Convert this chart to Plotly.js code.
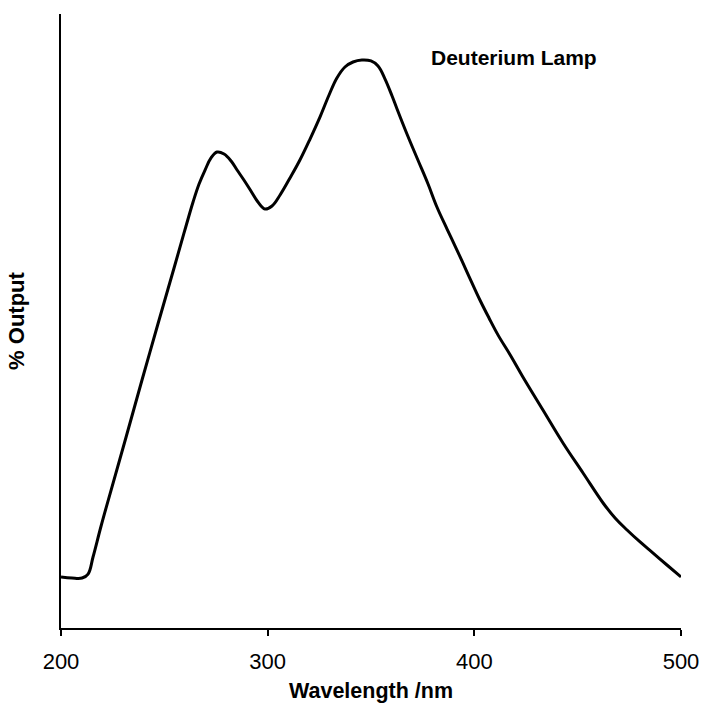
<!DOCTYPE html>
<html>
<head>
<meta charset="utf-8">
<script src="https://cdn.plot.ly/plotly-3.0.1.min.js"></script>
<style>html,body{margin:0;padding:0;background:#fff;}#chart{width:702px;height:708px;}</style>
</head>
<body>
<div id="chart"></div>
<script>
var wavelength = [200.0, 205.3, 210.2, 213.1, 215.5, 219.4, 223.7, 231.5, 239.2, 246.9, 254.7, 260.5, 263.9, 266.8, 269.7, 272.6, 275.5, 278.9, 282.3, 285.2, 288.5, 291.9, 295.3, 298.7, 302.1, 306.0, 310.8, 315.6, 320.5, 325.3, 329.7, 333.5, 337.4, 341.3, 345.6, 350.0, 353.4, 356.8, 360.2, 362.6, 367.4, 372.7, 377.6, 381.9, 386.8, 391.6, 396.9, 402.7, 407.1, 411.5, 417.3, 423.5, 433.2, 442.9, 452.6, 462.3, 468.1, 473.9, 480.2, 486.5, 493.2, 500.0];
var output = [8.31, 8.14, 8.14, 8.79, 11.56, 16.61, 21.82, 31.11, 40.39, 49.51, 58.63, 65.47, 69.38, 72.31, 74.59, 76.55, 77.52, 77.20, 76.06, 74.59, 72.96, 71.17, 69.38, 68.24, 68.73, 70.52, 73.29, 76.22, 79.64, 83.22, 86.81, 89.58, 91.37, 92.18, 92.51, 92.35, 91.53, 89.41, 86.64, 84.53, 80.46, 76.22, 72.31, 68.57, 64.98, 61.56, 57.65, 53.42, 50.49, 47.70, 44.50, 40.88, 35.50, 30.13, 25.24, 20.36, 17.92, 15.96, 14.01, 12.21, 10.26, 8.31];
var xTicks = [200, 300, 400, 500];
var seriesName = "Deuterium Lamp";

var font = "Liberation Sans, Arial, sans-serif";
Plotly.newPlot('chart', [{
  x: wavelength, y: output, type: 'scatter', mode: 'lines',
  line: {color: '#000', width: 3, shape: 'spline', smoothing: 1.1},
  hoverinfo: 'none', showlegend: false
}], {
  width: 702, height: 708,
  margin: {l: 61, r: 21, t: 14, b: 80},
  paper_bgcolor: '#fff', plot_bgcolor: '#fff',
  font: {family: font, color: '#000', size: 22},
  xaxis: {
    range: [200, 500], tickvals: xTicks, ticktext: xTicks.map(String),
    ticks: 'outside', ticklen: 6, tickwidth: 2, tickcolor: '#000',
    showline: true, linecolor: '#000', linewidth: 2, showgrid: false, zeroline: false,
    tickfont: {family: font, size: 22, color: '#000'}, ticklabelstandoff: 7,
    title: {text: '<b>Wavelength /nm</b>', font: {family: font, size: 21.5, color: '#000'}, standoff: 10}
  },
  yaxis: {
    range: [0, 100], showticklabels: false, ticks: '',
    showline: true, linecolor: '#000', linewidth: 2, showgrid: false, zeroline: false,
    title: {text: '<b>% Output</b>', font: {family: font, size: 22, color: '#000'}, standoff: 28}
  },
  annotations: [{
    text: '<b>' + seriesName + '</b>', xref: 'paper', yref: 'paper',
    x: (514 - 61) / 620, y: (628 - 57) / 614, xanchor: 'center', yanchor: 'middle',
    showarrow: false, font: {family: font, size: 21, color: '#000'}
  }]
}, {staticPlot: true});
</script>
</body>
</html>
